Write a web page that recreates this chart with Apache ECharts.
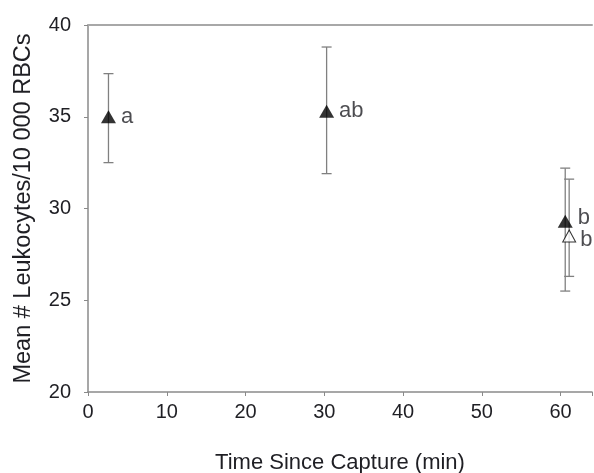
<!DOCTYPE html>
<html>
<head>
<meta charset="utf-8">
<script src="https://cdn.jsdelivr.net/npm/echarts@6/dist/echarts.min.js"></script>
<style>
  html, body { margin: 0; padding: 0; background: #fff; }
  #chart { width: 594px; height: 473px; }
</style>
</head>
<body>
<div id="chart"></div>
<script>
// filled triangles
const fillX = [2.6, 30.3, 60.6]
const fillY = [35.0, 35.3, 29.3]
const fillLow = [32.5, 31.9, 25.5]
const fillHigh = [37.35, 38.8, 32.2]
const fillLabels = ['a', 'ab', 'b']
// open triangle
const openX = [61.1]
const openY = [28.5]
const openLow = [26.3]
const openHigh = [31.6]
const openLabels = ['b']

const yTicks = [20, 25, 30, 35, 40]
const xTicks = [0, 10, 20, 30, 40, 50, 60]

const font = 'Liberation Sans, Arial, sans-serif'
const txt = '#1f1f24'

function errData (xs, lo, hi) {
  return xs.map((x, i) => [x, lo[i], hi[i]])
}

function renderErr (params, api) {
  const x = api.value(0)
  const lo = api.coord([x, api.value(1)])
  const hi = api.coord([x, api.value(2)])
  const cap = 5
  const st = { stroke: '#808080', lineWidth: 1.3 }
  return {
    type: 'group',
    children: [
      { type: 'line', shape: { x1: lo[0], y1: lo[1], x2: hi[0], y2: hi[1] }, style: st },
      { type: 'line', shape: { x1: lo[0] - cap, y1: lo[1], x2: lo[0] + cap, y2: lo[1] }, style: st },
      { type: 'line', shape: { x1: hi[0] - cap, y1: hi[1], x2: hi[0] + cap, y2: hi[1] }, style: st }
    ]
  }
}

const chart = echarts.init(document.getElementById('chart'))
chart.setOption({
  animation: false,
  grid: { left: 88, right: 2, top: 25, bottom: 81, outerBoundsMode: 'none', containLabel: false },
  xAxis: [{
    type: 'value',
    min: 0,
    max: 64,
    interval: 10,
    splitLine: { show: false },
    axisLine: { lineStyle: { color: '#8a8a8a', width: 1.5 } },
    axisTick: { length: 4, lineStyle: { color: '#8a8a8a' } },
    axisLabel: {
      color: txt, fontSize: 20, fontFamily: font, margin: 10,
      formatter: v => xTicks.indexOf(v) >= 0 ? String(v) : ''
    },
    name: 'Time Since Capture (min)',
    nameLocation: 'middle',
    nameGap: 60,
    nameTextStyle: { color: txt, fontSize: 22, fontFamily: font }
  }, {
    type: 'value',
    position: 'top',
    min: 0,
    max: 64,
    splitLine: { show: false },
    axisLine: { show: true, lineStyle: { color: '#a8a8a8', width: 2 } },
    axisTick: { show: false },
    axisLabel: { show: false }
  }],
  yAxis: {
    type: 'value',
    min: 20,
    max: 40,
    interval: 5,
    splitLine: { show: false },
    axisLine: { show: true, lineStyle: { color: '#8a8a8a', width: 1.5 } },
    axisTick: { show: true, length: 4, lineStyle: { color: '#8a8a8a' } },
    axisLabel: {
      color: txt, fontSize: 20, fontFamily: font, margin: 17,
      formatter: v => yTicks.indexOf(v) >= 0 ? String(v) : ''
    },
    name: 'Mean # Leukocytes/10 000 RBCs',
    nameLocation: 'middle',
    nameGap: 52,
    nameTextStyle: { color: txt, fontSize: 23.5, fontFamily: font }
  },
  series: [
    {
      type: 'custom',
      renderItem: renderErr,
      data: errData(fillX, fillLow, fillHigh),
      z: 1
    },
    {
      type: 'custom',
      renderItem: renderErr,
      data: errData(openX, openLow, openHigh),
      z: 1
    },
    {
      type: 'scatter',
      symbol: 'triangle',
      symbolSize: [15, 13],
      itemStyle: { color: '#000' },
      data: fillX.map((x, i) => ({
        value: [x, fillY[i]],
        label: { offset: i === 2 ? [0, -3] : [0, 0] }
      })),
      label: {
        show: true,
        position: 'right',
        distance: 5,
        color: txt,
        fontSize: 22,
        fontFamily: font,
        formatter: p => fillLabels[p.dataIndex]
      },
      z: 3
    },
    {
      type: 'scatter',
      symbol: 'triangle',
      symbolSize: [13, 12],
      itemStyle: { color: '#fff', borderColor: '#000', borderWidth: 1 },
      data: openX.map((x, i) => ({ value: [x, openY[i]] })),
      label: {
        show: true,
        position: 'right',
        distance: 4,
        offset: [0, 4],
        color: txt,
        fontSize: 22,
        fontFamily: font,
        formatter: p => openLabels[p.dataIndex]
      },
      z: 2
    }
  ]
})
</script>
</body>
</html>
